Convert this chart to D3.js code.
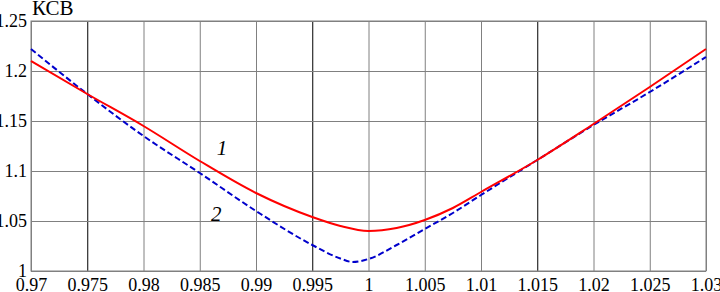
<!DOCTYPE html>
<html>
<head>
<meta charset="utf-8">
<script src="https://cdn.jsdelivr.net/npm/d3@7"></script>
<style>
body{margin:0;background:#fff}
</style>
</head>
<body>
<script>
// frequency (normalized) and VSWR values
const freq1=[0.97,0.975,0.98,0.985,0.99,0.9925,0.995,0.9975,1.0,1.0025,1.005,1.0075,1.01,1.015,1.02,1.025,1.03]
const vswr1=[1.21,1.177,1.145,1.110,1.078,1.065,1.054,1.045,1.040,1.043,1.051,1.063,1.079,1.111,1.147,1.184,1.222]

const freq2=[0.97,0.975,0.98,0.985,0.99,0.995,0.9975,0.9986,1.0,1.0025,1.005,1.0075,1.01,1.015,1.02,1.025,1.03]
const vswr2=[1.222,1.177,1.135,1.098,1.060,1.026,1.0125,1.009,1.012,1.026,1.042,1.058,1.076,1.111,1.146,1.179,1.214]

const xTicks=[0.97,0.975,0.98,0.985,0.99,0.995,1,1.005,1.01,1.015,1.02,1.025,1.03]
const xLabels=["0.97","0.975","0.98","0.985","0.99","0.995","1","1.005","1.01","1.015","1.02","1.025","1.03"]
const yTicks=[1,1.05,1.1,1.15,1.2,1.25]
const yLabels=["1","1.05","1.1","1.15","1.2","1.25"]
const darkTicks=[0.975,0.995,1.015]

const W=720,H=292
const m={top:21,right:14,bottom:21,left:31}
const w=W-m.left-m.right, h=H-m.top-m.bottom
const serif="Liberation Serif, Times New Roman, serif"

const svg=d3.select("body").append("svg")
            .attr("width",W)
            .attr("height",H)

const g=svg.append("g").attr("transform","translate("+m.left+","+m.top+")")

const x=d3.scaleLinear().domain([0.97,1.03]).range([0,w])
const y=d3.scaleLinear().domain([1,1.25]).range([h,0])

// vertical grid + x labels
const gx=g.append("g")
   .attr("transform","translate(0,"+h+")")
   .call(d3.axisBottom(x).tickValues(xTicks)
          .tickFormat((d,i)=>xLabels[i])
          .tickSizeInner(-h).tickSizeOuter(0).tickPadding(7))
gx.select(".domain").remove()
gx.selectAll("line")
  .attr("stroke",d=>darkTicks.some(t=>Math.abs(t-d)<1e-9)?"#000":"#808080")
gx.selectAll("text").attr("fill","#000")
  .style("font-family",serif).style("font-size","18px")

// horizontal grid + y labels
const gy=g.append("g")
   .call(d3.axisLeft(y).tickValues(yTicks)
          .tickFormat((d,i)=>yLabels[i])
          .tickSizeInner(-w).tickSizeOuter(0).tickPadding(4))
gy.select(".domain").remove()
gy.selectAll("line").attr("stroke","#808080")
gy.selectAll("text").attr("fill","#000")
  .style("font-family",serif).style("font-size","18px")

g.append("rect")
 .attr("x",0).attr("y",0).attr("width",w).attr("height",h)
 .attr("fill","none").attr("stroke","#808080")

const line=d3.line().x(d=>x(d[0])).y(d=>y(d[1])).curve(d3.curveMonotoneX)

g.append("path")
 .datum(d3.zip(freq2,vswr2))
 .attr("d",line)
 .attr("fill","none")
 .attr("stroke","#0000cc")
 .attr("stroke-width",2)
 .attr("stroke-dasharray","6,3")

g.append("path")
 .datum(d3.zip(freq1,vswr1))
 .attr("d",line)
 .attr("fill","none")
 .attr("stroke","#ff0000")
 .attr("stroke-width",2)

// curve labels
g.append("text")
 .attr("x",x(0.9865)).attr("y",y(1.108)-8)
 .style("font-family",serif).style("font-size","21px").style("font-style","italic")
 .text("1")
g.append("text")
 .attr("x",x(0.986)).attr("y",y(1.058)+8)
 .style("font-family",serif).style("font-size","21px").style("font-style","italic")
 .text("2")

svg.append("text")
   .attr("x",32).attr("y",15)
   .style("font-family",serif).style("font-size","21px")
   .text("КСВ")
</script>
</body>
</html>
